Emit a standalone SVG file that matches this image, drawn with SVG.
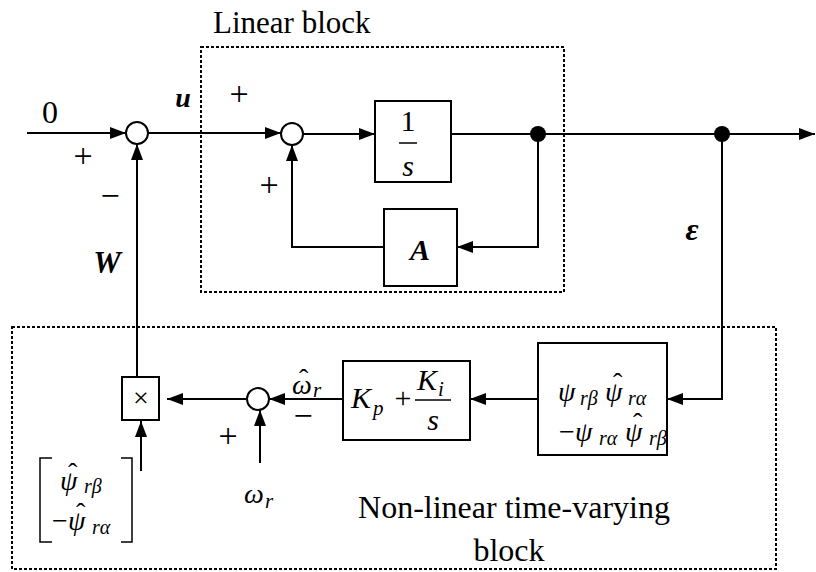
<svg xmlns="http://www.w3.org/2000/svg" width="816" height="572" viewBox="0 0 816 572">
<style>
.ln{fill:none;stroke:#000;stroke-width:2}
.bx{fill:#fff;stroke:#000;stroke-width:2}
.dash{fill:none;stroke:#000;stroke-width:2;stroke-dasharray:3,2}
.sum{fill:#fff;stroke:#000;stroke-width:2}
.t{font-family:"Liberation Serif","Times New Roman",serif;font-size:30px;fill:#000}
.m{font-family:"Liberation Serif","Times New Roman",serif;font-size:28px;font-style:italic;fill:#000}
.s{font-family:"Liberation Serif","Times New Roman",serif;font-size:20px;font-style:italic;fill:#000}
.n{font-style:normal}
.i{font-style:italic}
.b{font-weight:bold}
.c{text-anchor:middle}
.pm{font-size:34px}
</style>
<defs>
<marker id="ah" markerWidth="16" markerHeight="12" refX="16" refY="6" orient="auto" markerUnits="userSpaceOnUse">
<path d="M0,0 L16,6 L0,12 Z" fill="#000"/>
</marker>
</defs>
<g id="linear-block">
<rect class="dash" x="201" y="47" width="363" height="245"/>
<text class="t" x="213" y="33" style="font-size:31px">Linear block</text>
</g>
<g id="nonlinear-block">
<rect class="dash" x="12" y="327" width="764" height="242"/>
<text class="t c" x="514" y="518" style="font-size:32px">Non-linear time-varying</text>
<text class="t c" x="509" y="561" style="font-size:32px">block</text>
</g>
<g id="connectors">
<path class="ln" d="M27,133 H126" marker-end="url(#ah)"/>
<path class="ln" d="M148,133 H281" marker-end="url(#ah)"/>
<path class="ln" d="M303,134 H375" marker-end="url(#ah)"/>
<path class="ln" d="M451,134 H815" marker-end="url(#ah)"/>
<path class="ln" d="M538,134 V247 H457" marker-end="url(#ah)"/>
<path class="ln" d="M384,247 H292 V145" marker-end="url(#ah)"/>
<path class="ln" d="M722,134 V399 H667" marker-end="url(#ah)"/>
<path class="ln" d="M538,399 H470" marker-end="url(#ah)"/>
<path class="ln" d="M343,399 H269" marker-end="url(#ah)"/>
<path class="ln" d="M247,399 H167" marker-end="url(#ah)"/>
<path class="ln" d="M137,377 V144" marker-end="url(#ah)"/>
<path class="ln" d="M260,463 V410" marker-end="url(#ah)"/>
<path class="ln" d="M141,471 V421" marker-end="url(#ah)"/>
<circle cx="538" cy="134" r="8" fill="#000"/>
<circle cx="722" cy="134" r="8" fill="#000"/>
</g>
<g id="sum1">
<circle class="sum" cx="137" cy="133" r="11"/>
<text class="t" x="42" y="123" style="font-size:32px">0</text>
<text class="t c pm" x="83" y="167">+</text>
<text class="t c pm" x="110" y="207">−</text>
<text class="t i b c" x="107" y="273" style="font-size:31px">W</text>
<text class="t i b c" x="183" y="107" style="font-size:28px">u</text>
</g>
<g id="sum2">
<circle class="sum" cx="292" cy="134" r="11"/>
<text class="t c pm" x="239" y="105">+</text>
<text class="t c pm" x="269" y="196">+</text>
</g>
<g id="integrator">
<rect class="bx" x="375" y="101" width="76" height="81"/>
<text class="t c" x="408" y="131">1</text>
<line x1="399" y1="143" x2="417" y2="143" stroke="#000" stroke-width="1.5"/>
<text class="t i c" x="408" y="176">s</text>
</g>
<g id="A-block">
<rect class="bx" x="384" y="209" width="73" height="77"/>
<text class="t i b c" x="420" y="260">A</text>
</g>
<g id="epsilon">
<text class="t i b c" x="692" y="240" style="font-size:32px">ε</text>
</g>
<g id="psi-block">
<rect class="bx" x="538" y="343" width="129" height="112"/>
<text class="m" x="558" y="401">ψ</text>
<text class="s" x="580" y="405">rβ</text>
<text class="m n" x="613" y="392">ˆ<tspan class="i" x="605" y="401">ψ</tspan></text>
<text class="s" x="628" y="405">rα</text>
<text class="t" x="559" y="441" style="font-size:28px">−</text>
<text class="m" x="575" y="441">ψ</text>
<text class="s" x="599" y="445">rα</text>
<text class="m n" x="633" y="432">ˆ<tspan class="i" x="625" y="441">ψ</tspan></text>
<text class="s" x="649" y="445">rβ</text>
</g>
<g id="PI-block">
<rect class="bx" x="343" y="361" width="127" height="79"/>
<text class="m" x="351" y="408" style="font-size:30px">K</text>
<text class="s" x="373" y="415" style="font-size:21px">p</text>
<text class="t c" x="403" y="408">+</text>
<text class="m" x="417" y="390" style="font-size:30px">K</text>
<text class="s" x="438" y="396" style="font-size:21px">i</text>
<line x1="415" y1="400" x2="451" y2="400" stroke="#000" stroke-width="1.5"/>
<text class="t i c" x="433" y="430">s</text>
</g>
<g id="sum3">
<circle class="sum" cx="258" cy="399" r="11"/>
<text class="m n" x="299" y="388">ˆ<tspan class="i" x="292" y="394">ω</tspan></text>
<text class="s" x="313" y="397" style="font-size:21px">r</text>
<text class="t c pm" x="303" y="427">−</text>
<text class="t c pm" x="228" y="447">+</text>
<text class="m" x="244" y="503">ω</text>
<text class="s" x="265" y="508" style="font-size:21px">r</text>
</g>
<g id="multiplier">
<rect class="bx" x="122" y="377" width="37" height="43"/>
<text class="t c" x="141" y="407" style="font-size:28px">×</text>
</g>
<g id="matrix">
<path d="M52,458 H40 V542 H52 M121,458 H132 V542 H121" fill="none" stroke="#000" stroke-width="1.5"/>
<text class="m n" x="68" y="482">ˆ<tspan class="i" x="60" y="490">ψ</tspan></text>
<text class="s" x="84" y="493">rβ</text>
<text class="t" x="52" y="530" style="font-size:28px">−</text>
<text class="m n" x="76" y="522">ˆ<tspan class="i" x="68" y="530">ψ</tspan></text>
<text class="s" x="92" y="534">rα</text>
</g>
</svg>
